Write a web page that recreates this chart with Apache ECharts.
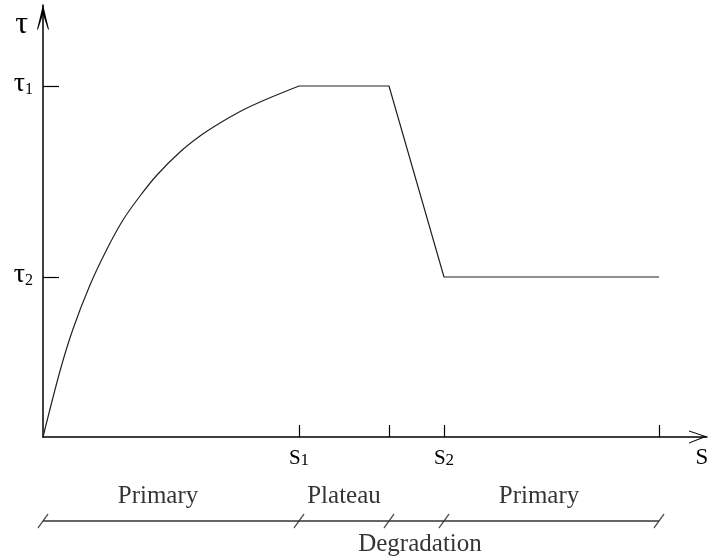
<!DOCTYPE html>
<html>
<head>
<meta charset="utf-8">
<script src="https://cdn.jsdelivr.net/npm/echarts@6/dist/echarts.min.js"></script>
<style>html,body{margin:0;padding:0;background:#fff}#c{width:708px;height:560px}</style>
</head>
<body>
<div id="c"></div>
<script>
// ---- data (units: slip s along x, stress tau along y) ----
const curveX = [0, 17, 30, 47, 64, 80, 97, 114, 137, 157, 177, 200, 224, 256];
const curveY = [0, 66, 108, 152, 188, 217, 241, 262, 285, 301, 314, 327, 338, 351];
const restX = [256, 346, 401, 616];
const restY = [351, 351, 160, 160];
const xTickValues = [256, 346, 401, 616];
const xLabelValues = [256, 401, 659];
const xLabelTexts = ['{s|S}{n|1}', '{s|S}{n|2}', '{b|S}'];
const yTickValues = [351, 160];
const yLabelValues = [409, 351, 160];
const yLabelTexts = ['{T|τ}', '{t|τ}{n|1}', '{t|τ}{n|2}'];
const bracketX = [0, 616];
const bracketMarks = [0, 256, 346, 401, 616];
const segLabels = ['Primary', 'Plateau', 'Primary', 'Degradation'];
const segLabelX = [115, 301, 496, 377];
const segLabelY = [64, 64, 64, 16];

const FONT = 'Liberation Serif';
const chart = echarts.init(document.getElementById('c'));
const fmt = (vals, texts) => v => { const i = vals.indexOf(v); return i >= 0 ? texts[i] : ''; };

chart.setOption({
  animation: false,
  backgroundColor: '#fff',
  grid: [
    {left: 43, right: 1, top: 5, bottom: 123, containLabel: false, outerBoundsMode: 'none'},
    {left: 43, right: 1, top: 480, height: 80, containLabel: false, outerBoundsMode: 'none'}
  ],
  xAxis: [{
    type: 'value', min: 0, max: 664, gridIndex: 0,
    splitLine: {show: false},
    axisLine: {show: true, lineStyle: {color: '#000', width: 1.5},
      symbol: ['none', 'path://M6,0 L13,18 L12,18 L6,3 L1,18 L0,18 Z'], symbolSize: [13, 18], symbolOffset: [0, -9]},
    axisTick: {show: true, inside: true, length: 12, lineStyle: {color: '#000', width: 1.2}, customValues: xTickValues},
    axisLabel: {show: true, margin: 10, customValues: xLabelValues, formatter: fmt(xLabelValues, xLabelTexts),
      rich: {
        s: {fontFamily: FONT, fontSize: 21, color: '#000', verticalAlign: 'bottom', lineHeight: 22},
        n: {fontFamily: FONT, fontSize: 17, color: '#000', verticalAlign: 'bottom', lineHeight: 22},
        b: {fontFamily: FONT, fontSize: 23, color: '#000', verticalAlign: 'bottom', lineHeight: 22}
      }}
  }, {
    type: 'value', min: 0, max: 664, gridIndex: 1, show: false
  }],
  yAxis: [{
    type: 'value', min: 0, max: 432, gridIndex: 0,
    splitLine: {show: false},
    axisLine: {show: true, lineStyle: {color: '#000', width: 1.5},
      symbol: ['none', 'path://M6,0 L12,25 L11,25 L6,10 L1,25 L0,25 Z'], symbolSize: [12, 25], symbolOffset: [0, -12]},
    axisTick: {show: true, inside: true, length: 16, lineStyle: {color: '#000', width: 1.2}, customValues: yTickValues},
    axisLabel: {show: true, margin: 10, customValues: yLabelValues, formatter: fmt(yLabelValues, yLabelTexts),
      rich: {
        T: {fontFamily: FONT, fontSize: 32, color: '#000', padding: [0, 5, 0, 0], verticalAlign: 'bottom', lineHeight: 26},
        t: {fontFamily: FONT, fontSize: 28, color: '#000', verticalAlign: 'bottom', lineHeight: 24},
        n: {fontFamily: FONT, fontSize: 16, color: '#000', verticalAlign: 'bottom', lineHeight: 22}
      }}
  }, {
    type: 'value', min: 0, max: 80, gridIndex: 1, show: false
  }],
  series: [
    {type: 'line', xAxisIndex: 0, yAxisIndex: 0, smooth: 0.3, symbol: 'none',
     lineStyle: {color: '#222', width: 1.2}, data: curveX.map((x, i) => [x, curveY[i]])},
    {type: 'line', xAxisIndex: 0, yAxisIndex: 0, symbol: 'none',
     lineStyle: {color: '#222', width: 1.2}, data: restX.map((x, i) => [x, restY[i]])},
    {type: 'line', xAxisIndex: 1, yAxisIndex: 1, symbol: 'none',
     lineStyle: {color: '#333', width: 1.5}, data: bracketX.map(x => [x, 39])},
    {type: 'scatter', xAxisIndex: 1, yAxisIndex: 1,
     symbol: 'path://M0,14 L11,0 L12,1 L1,15 Z', symbolSize: [11, 15],
     itemStyle: {color: '#222'}, data: bracketMarks.map(x => [x, 39])},
    {type: 'scatter', xAxisIndex: 1, yAxisIndex: 1, symbolSize: 1,
     itemStyle: {color: 'transparent'},
     label: {show: true, position: 'inside', formatter: p => segLabels[p.dataIndex],
       fontFamily: FONT, fontSize: 25, color: '#000'},
     data: segLabelX.map((x, i) => [x, segLabelY[i]])}
  ]
});
</script>
</body>
</html>
